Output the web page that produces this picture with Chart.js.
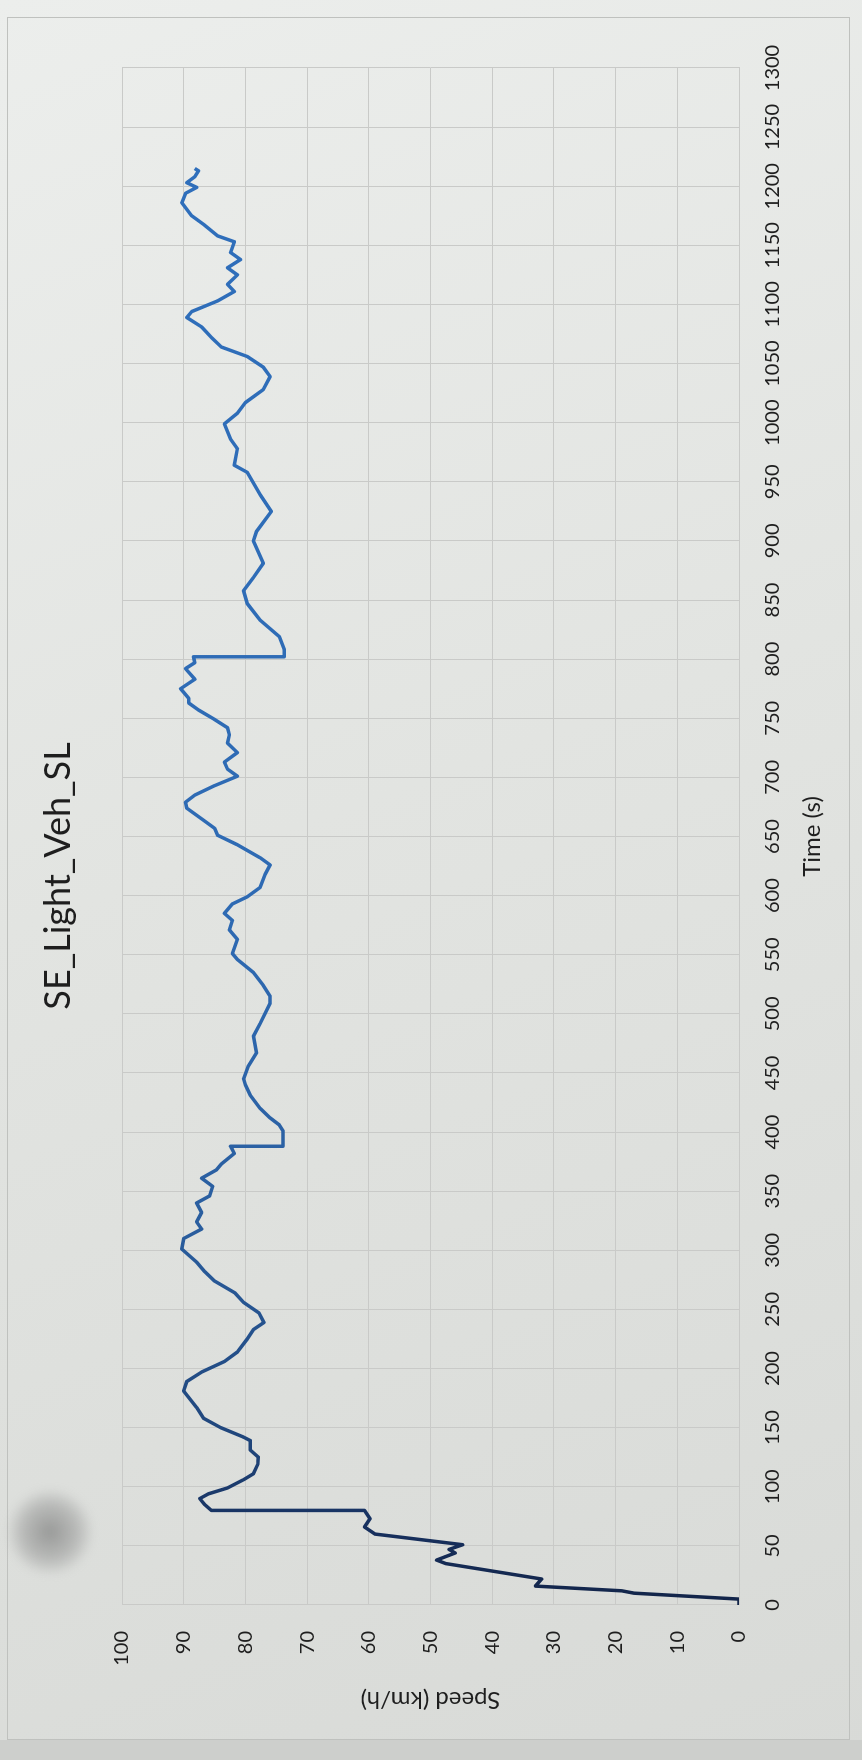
<!DOCTYPE html>
<html lang="en">

<head>
  <meta charset="UTF-8">
  <title>SE_Light_Veh_SL</title>
  <style>
    html, body {
      margin: 0;
      padding: 0;
    }

    body {
      width: 862px;
      height: 1760px;
      overflow: hidden;
      background: linear-gradient(160deg, #eceeec 0%, #e2e4e1 45%, #d8dad7 100%);
      position: relative;
    }

    /* lower strip under the sheet */
    .under {
      position: absolute;
      left: 0;
      top: 1740px;
      width: 862px;
      height: 20px;
      background: #cdcfcc;
    }

    /* chart is laid out landscape, then turned a quarter to the left */
    #frame {
      position: absolute;
      left: 0;
      top: 0;
      width: 1760px;
      height: 862px;
      transform-origin: 0 0;
      transform: translateY(1760px) rotate(-90deg);
    }

    .chart-border {
      position: absolute;
      left: 20px;
      top: 7px;
      width: 1723px;
      height: 843px;
      border: 1px solid #bfc1be;
      box-sizing: border-box;
    }

    #speedChart {
      position: absolute;
      left: 0;
      top: 0;
    }

    .smudge {
      position: absolute;
      left: 8px;
      top: 1490px;
      width: 84px;
      height: 84px;
      border-radius: 50%;
      background: radial-gradient(circle, rgba(140, 141, 140, 0.85) 0%, rgba(160, 161, 160, 0.6) 45%, rgba(200, 201, 200, 0) 75%);
      filter: blur(4px);
    }
  </style>
</head>

<body>
  <div class="under"></div>
  <div id="frame">
    <div class="chart-border"></div>
    <canvas id="speedChart" width="1760" height="862"></canvas>
  </div>
  <div class="smudge"></div>

  <script src="https://cdn.jsdelivr.net/npm/chart.js"></script>
  <script>
    // Speed trace, time in seconds and speed in km/h
    const timeSec = [
      0, 5, 10, 12, 16, 22, 35, 38, 44, 47, 51, 60, 66, 73, 80,
      80, 85, 90, 94, 99, 106, 111, 119, 125, 131, 139, 142, 150, 158, 167,
      181, 189, 197, 206, 214, 225, 233, 239, 247, 256, 264, 274, 282, 290, 301,
      310, 318, 324, 332, 340, 346, 354, 361, 368, 373, 382, 388,
      388, 401, 406, 412, 420, 431, 440, 445, 456, 467, 481, 492, 509,
      515, 524, 535, 546, 551, 563, 571, 579, 585, 593, 599, 607, 618, 626,
      632, 643, 651, 657, 665, 674, 679, 685, 693, 701, 707, 713, 721, 729,
      736, 742, 749, 757, 763, 767, 775, 783, 792, 797, 802,
      802, 808, 819, 833, 847, 858, 869, 881, 900, 908, 925, 939, 958, 964,
      978, 986, 999, 1008, 1017, 1028, 1039, 1047, 1056, 1064, 1072, 1081, 1089,
      1094, 1103, 1111, 1117, 1125, 1131, 1138, 1144, 1153, 1158, 1167, 1175,
      1186, 1194, 1199, 1203, 1208, 1213, 1215
    ];

    const speedKmh = [
      0, 0, 17, 19, 33, 32, 47.5, 49, 46, 47, 44.8, 59, 60.7, 59.8, 60.7,
      85.5, 86.6, 87.4, 86, 82.9, 80.3, 78.7, 78, 77.9, 79.2, 79.2, 80.3, 84, 86.8, 87.9,
      90, 89.5, 87.1, 83.4, 81.3, 79.7, 78.7, 77, 77.8, 80.3, 81.7, 85, 86.6, 87.9, 90.3,
      90, 87.1, 87.9, 87.1, 87.9, 85.8, 85.3, 87.1, 84.7, 83.9, 81.8, 82.4,
      73.9, 73.9, 74.5, 76, 77.6, 79.2, 80, 80.3, 79.5, 78.2, 78.7, 77.6, 76,
      76, 77.1, 78.7, 81.3, 82.1, 81.3, 82.6, 82.1, 83.4, 82.1, 79.7, 77.6, 76.8, 76,
      77.6, 81.3, 84.5, 85, 87.1, 89.5, 89.7, 88.2, 85, 81.3, 82.9, 83.4, 81.3, 82.9,
      82.6, 82.9, 85, 87.6, 89.2, 89.2, 90.5, 88.2, 89.7, 88.2, 88.4,
      73.7, 73.7, 74.5, 77.6, 79.7, 80.3, 78.7, 77.1, 78.7, 78.2, 75.8, 77.6, 79.7, 81.8,
      81.3, 82.4, 83.4, 81.3, 80, 77.1, 76, 77.1, 79.7, 83.9, 85.5, 87.1, 89.5,
      88.7, 84.5, 81.8, 82.9, 81.3, 82.9, 80.8, 82.4, 81.8, 84.5, 86.6, 88.7,
      90.3, 89.7, 87.9, 89.5, 88.2, 87.6, 88.2
    ];

    // Axis ranges and tick steps
    const timeRange = [0, 1300];
    const timeStep = 50;
    const speedRange = [0, 100];
    const speedStep = 10;

    const chartTitle = 'SE_Light_Veh_SL';
    const timeLabel = 'Time (s)';
    const speedLabel = 'Speed (km/h)';

    const textColor = '#1e1e1e';
    const gridColor = '#c9cac8';
    const fontFamily = 'Lato, "Open Sans", sans-serif';

    const points = timeSec.map((t, i) => ({ x: t, y: speedKmh[i] }));

    // darker ink on the first part of the trace, lighter blue further on
    function traceColor(context) {
      const chart = context.chart;
      const area = chart.chartArea;
      if (!area) return '#2e6cb6';
      const g = chart.ctx.createLinearGradient(area.left, 0, area.right, 0);
      g.addColorStop(0, '#122448');
      g.addColorStop(0.05, '#17305e');
      g.addColorStop(0.1, '#1f4479');
      g.addColorStop(0.25, '#2a5e9f');
      g.addColorStop(0.45, '#2e6ab3');
      g.addColorStop(1, '#2f6fbc');
      return g;
    }

    // plain numbers, no thousands separator
    const plainTick = value => String(value);

    const ctx = document.getElementById('speedChart').getContext('2d');
    new Chart(ctx, {
      type: 'line',
      data: {
        datasets: [{
          label: chartTitle,
          data: points,
          borderColor: traceColor,
          borderWidth: 3.5,
          borderJoinStyle: 'round',
          pointRadius: 0,
          tension: 0,
          fill: false
        }]
      },
      options: {
        responsive: false,
        animation: false,
        devicePixelRatio: 1,
        layout: {
          padding: { left: 76, right: 68, top: 0, bottom: 12 }
        },
        plugins: {
          legend: { display: false },
          tooltip: { enabled: false },
          title: {
            display: true,
            text: chartTitle,
            color: textColor,
            font: { family: fontFamily, size: 36, weight: 'normal' },
            padding: { top: 36.4, bottom: 42.4 }
          }
        },
        scales: {
          x: {
            type: 'linear',
            min: timeRange[0],
            max: timeRange[1],
            ticks: {
              stepSize: timeStep,
              autoSkip: false,
              maxRotation: 0,
              color: textColor,
              padding: 22,
              font: { family: fontFamily, size: 20 },
              callback: plainTick
            },
            grid: { color: gridColor, drawTicks: false },
            border: { color: gridColor },
            title: {
              display: true,
              text: timeLabel,
              color: textColor,
              font: { family: fontFamily, size: 24 },
              padding: { top: 0, bottom: 23.6 }
            },
            afterFit: scale => { scale.height = 111; }
          },
          y: {
            min: speedRange[0],
            max: speedRange[1],
            ticks: {
              stepSize: speedStep,
              color: textColor,
              padding: 26,
              font: { family: fontFamily, size: 20 },
              callback: plainTick
            },
            grid: { color: gridColor, drawTicks: false },
            border: { color: gridColor },
            title: {
              display: true,
              text: speedLabel,
              color: textColor,
              font: { family: fontFamily, size: 24 },
              padding: { top: -30.4, bottom: 0 }
            },
            afterFit: scale => { scale.width = 79; }
          }
        }
      }
    });
  </script>
</body>

</html>
